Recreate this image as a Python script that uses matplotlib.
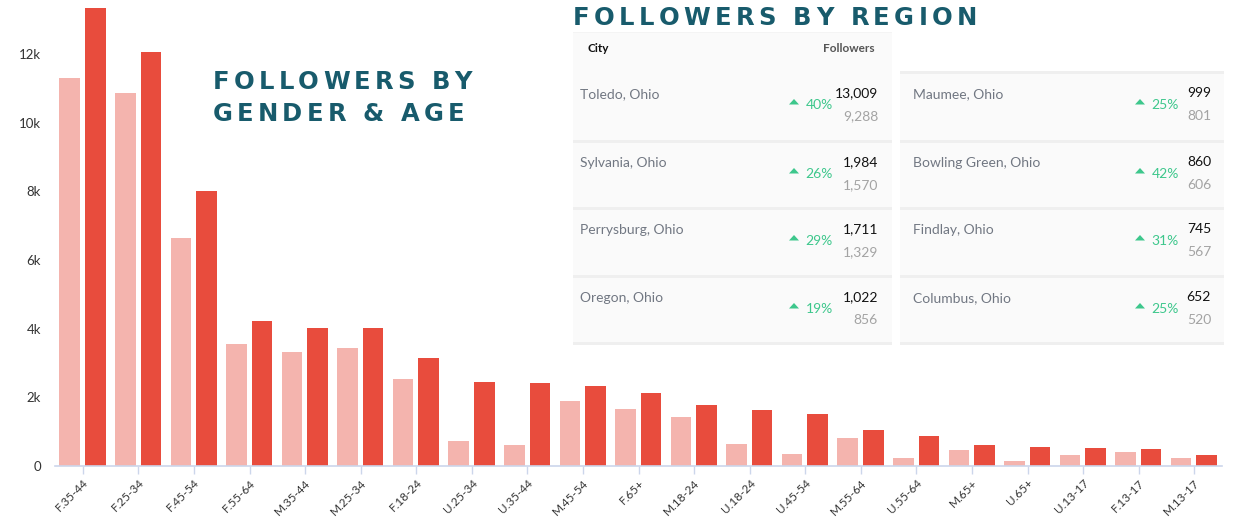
import matplotlib
matplotlib.use("Agg")
import matplotlib.pyplot as plt
from matplotlib.patches import Rectangle, Polygon
from matplotlib.font_manager import FontProperties
import numpy as np

# ---------------- data ----------------
categories = ["F.35-44", "F.25-34", "F.45-54", "F.55-64", "M.35-44", "M.25-34", "F.18-24",
              "U.25-34", "U.35-44", "M.45-54", "F.65+", "M.18-24", "U.18-24", "U.45-54",
              "M.55-64", "U.55-64", "M.65+", "U.65+", "U.13-17", "F.13-17", "M.13-17"]
previous = [11300, 10850, 6630, 3550, 3320, 3430, 2530, 730, 610, 1900, 1660, 1420, 630, 350,
            820, 240, 460, 150, 310, 400, 240]
current = [13350, 12070, 8020, 4230, 4020, 4020, 3140, 2440, 2410, 2330, 2120, 1770, 1620, 1510,
           1050, 880, 600, 560, 520, 500, 310]
y_ticks = [0, 2000, 4000, 6000, 8000, 10000, 12000]
y_tick_labels = ["0", "2k", "4k", "6k", "8k", "10k", "12k"]

cities_left = ["Toledo, Ohio", "Sylvania, Ohio", "Perrysburg, Ohio", "Oregon, Ohio"]
now_left = ["13,009", "1,984", "1,711", "1,022"]
prev_left = ["9,288", "1,570", "1,329", "856"]
pct_left = ["40%", "26%", "29%", "19%"]
cities_right = ["Maumee, Ohio", "Bowling Green, Ohio", "Findlay, Ohio", "Columbus, Ohio"]
now_right = ["999", "860", "745", "652"]
prev_right = ["801", "606", "567", "520"]
pct_right = ["25%", "42%", "31%", "25%"]

# ---------------- style ----------------
W, H = 1242, 518
LIGHT = "#f4b4ae"
RED = "#e84c3d"
TEAL = "#185b6c"
GREEN = "#3dc78c"
AXIS = "#ccd6eb"
FONT = "Lato"

fig = plt.figure(figsize=(W / 100, H / 100), dpi=100)
fig.patch.set_facecolor("white")


def fx(px):
    return px / W


def fy(py):
    return 1 - py / H


ax = fig.add_axes([fx(55), fy(466), fx(1222) - fx(55), fy(0) - fy(466)])
x = np.arange(len(categories))
bw = 0.37
ax.bar(x - 0.235, previous, width=bw, color=LIGHT, zorder=2)
ax.bar(x + 0.225, current, width=bw, color=RED, zorder=2)
ax.set_xlim(-0.5, len(categories) - 0.5)
ax.set_ylim(0, 13570)
ax.set_yticks(y_ticks)
ax.set_yticklabels(y_tick_labels, fontsize=9.5, color="#333333", family=FONT)
ax.tick_params(axis="y", length=0, pad=10)
ax.set_xticks(x)
ax.set_xticklabels(categories, rotation=45, ha="right", va="top", rotation_mode="anchor",
                   fontsize=8.5, color="#333333", family=FONT)
ax.tick_params(axis="x", length=6, color=AXIS, width=1, pad=2)
for s in ["top", "right", "left"]:
    ax.spines[s].set_visible(False)
ax.spines["bottom"].set_color(AXIS)
ax.spines["bottom"].set_linewidth(1.2)
ax.set_facecolor("none")

# ---------------- table panel ----------------
row_edges = [72, 141, 208, 276, 343]


def rect(x0, y0, x1, y1, color, z=3):
    fig.patches.append(Rectangle((fx(x0), fy(y1)), fx(x1) - fx(x0), fy(y0) - fy(y1),
                                 transform=fig.transFigure, facecolor=color,
                                 edgecolor="none", zorder=z))


rect(573, 32, 892, 345, "#fafafa")
rect(900, 72, 1224, 345, "#fafafa")
for yy in row_edges[1:]:
    rect(573, yy - 1.5, 892, yy + 1.5, "#efefef", 4)
for yy in row_edges:
    rect(900, yy - 1.5, 1224, yy + 1.5, "#efefef", 4)
rect(573, 32, 892, 33, "#f4f4f4", 4)

fig.text(fx(587), fy(48), "City", fontsize=8.5, fontweight="bold", color="#111111",
         family=FONT, va="center", ha="left", zorder=6)
fig.text(fx(875), fy(48), "Followers", fontsize=8.5, fontweight="bold", color="#555555",
         family=FONT, va="center", ha="right", zorder=6)


def tri(px, py):
    pts = [(fx(px - 5), fy(py + 2.5)), (fx(px + 5), fy(py + 2.5)), (fx(px), fy(py - 3))]
    fig.patches.append(Polygon(pts, closed=True, transform=fig.transFigure,
                               facecolor=GREEN, edgecolor="none", zorder=6))


def draw_col(cities, now, prev, pct, x_city, x_pct, x_num):
    for i in range(len(cities)):
        top = row_edges[i]
        fig.text(fx(x_city), fy(top + 22), cities[i], fontsize=10, color="#717782",
                 family=FONT, va="center", ha="left", zorder=6)
        fig.text(fx(x_num), fy(top + 21), now[i], fontsize=10, color="#111111",
                 family=FONT, va="center", ha="right", zorder=6)
        fig.text(fx(x_num), fy(top + 44), prev[i], fontsize=10, color="#a3a3a3",
                 family=FONT, va="center", ha="right", zorder=6)
        fig.text(fx(x_pct), fy(top + 33), pct[i], fontsize=10, color=GREEN,
                 family=FONT, va="center", ha="right", zorder=6)
        tri(x_pct - 39, top + 30)


draw_col(cities_left, now_left, prev_left, pct_left, 580, 833, 878)
draw_col(cities_right, now_right, prev_right, pct_right, 913, 1179, 1211)

# ---------------- titles with letter spacing ----------------
fig.canvas.draw()
renderer = fig.canvas.get_renderer()
tfp = FontProperties(family="DejaVu Sans", weight="bold", size=17.5)


def spaced(text, x0, x1, baseline):
    widths = [renderer.get_text_width_height_descent(c, tfp, ismath=False)[0] for c in text]
    natural = sum(widths)
    track = (x1 - x0 - natural) / (len(text) - 1)
    px = x0
    for c, w in zip(text, widths):
        fig.text(fx(px), fy(baseline), c, fontproperties=tfp, color=TEAL,
                 ha="left", va="baseline", zorder=7)
        px += w + track


spaced("FOLLOWERS BY", 213, 472, 89)
spaced("GENDER & AGE", 213, 464, 121)
spaced("FOLLOWERS BY REGION", 573, 977, 25)

fig.savefig("out.png", dpi=100, facecolor="white")
